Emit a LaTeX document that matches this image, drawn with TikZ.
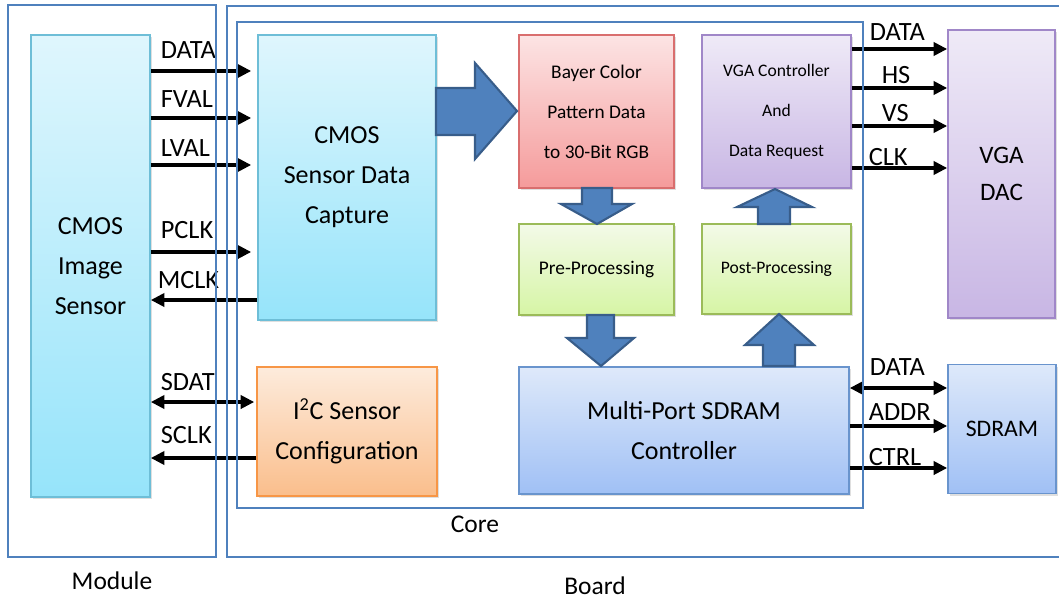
\documentclass[tikz,border=0pt]{standalone}
\usepackage{fontspec}
\setmainfont{Carlito}
\usepackage{tikz}
\usetikzlibrary{arrows.meta, shadows}

\definecolor{frameblue}{RGB}{79,129,189}
\definecolor{cyantop}{RGB}{223,246,253}
\definecolor{cyanbot}{RGB}{150,228,250}
\definecolor{cyanline}{RGB}{110,190,215}
\definecolor{orgtop}{RGB}{253,235,220}
\definecolor{orgbot}{RGB}{250,190,140}
\definecolor{orgline}{RGB}{247,150,70}
\definecolor{redtop}{RGB}{252,228,228}
\definecolor{redbot}{RGB}{245,155,155}
\definecolor{redline}{RGB}{217,110,110}
\definecolor{purtop}{RGB}{239,234,247}
\definecolor{purbot}{RGB}{200,182,228}
\definecolor{purline}{RGB}{160,135,200}
\definecolor{grntop}{RGB}{243,250,232}
\definecolor{grnbot}{RGB}{214,245,165}
\definecolor{grnline}{RGB}{155,187,89}
\definecolor{blutop}{RGB}{222,233,250}
\definecolor{blubot}{RGB}{160,192,245}
\definecolor{bluline}{RGB}{105,148,205}
\definecolor{arrowfill}{RGB}{79,129,189}
\definecolor{arrowline}{RGB}{56,93,138}

\begin{document}
\begin{tikzpicture}[x=0.02cm, y=-0.02cm,
  box/.style={draw, line width=0.9pt, align=center, inner sep=0pt,
    drop shadow={shadow xshift=1.2pt, shadow yshift=-1.2pt, opacity=0.25}},
  bigtxt/.style={font=\fontsize{14.8}{22.7}\selectfont},
  cyanbox/.style={box, bigtxt, draw=cyanline, top color=cyantop, bottom color=cyanbot},
  orgbox/.style={box, bigtxt, draw=orgline, top color=orgtop, bottom color=orgbot},
  redbox/.style={box, draw=redline, top color=redtop, bottom color=redbot},
  purbox/.style={box, draw=purline, top color=purtop, bottom color=purbot},
  grnbox/.style={box, draw=grnline, top color=grntop, bottom color=grnbot},
  blubox/.style={box, draw=bluline, top color=blutop, bottom color=blubot},
  frame/.style={draw=frameblue, line width=1.1pt},
  sig/.style={line width=2.3pt, -{Triangle[length=0.27cm, width=0.26cm]}},
  bisig/.style={line width=2.3pt, {Triangle[length=0.27cm, width=0.26cm]}-{Triangle[length=0.27cm, width=0.26cm]}},
  lab/.style={font=\fontsize{15}{17}\selectfont, anchor=base west, inner sep=0pt},
  blockarrow/.style={fill=arrowfill, draw=arrowline, line width=1.2pt, line join=miter}]
  \useasboundingbox (0,0) rectangle (1059,599);

  % Blocks
  \node[cyanbox, minimum width=2.38cm, minimum height=9.24cm] (sensor) at (90.5,266) {CMOS\\Image\\Sensor};
  \node[cyanbox, minimum width=3.56cm, minimum height=5.7cm] (capture) at (347,177.5) {CMOS\\Sensor Data\\Capture};
  \node[orgbox, minimum width=3.6cm, minimum height=2.58cm] (i2c) at (347,431.5) {I\textsuperscript{2}C Sensor\\Configuration};
  \node[redbox, font=\fontsize{11}{22.7}\selectfont, minimum width=3.1cm, minimum height=3.06cm] (bayer) at (596.5,111.5) {Bayer Color\\Pattern Data\\to 30-Bit RGB};
  \node[purbox, font=\fontsize{10}{22.7}\selectfont, minimum width=2.98cm, minimum height=3.06cm] (vgactl) at (776.5,111.5) {VGA Controller\\And\\Data Request};
  \node[grnbox, font=\fontsize{11}{13}\selectfont, minimum width=3.1cm, minimum height=1.82cm] (pre) at (596.5,269.5) {Pre-Processing};
  \node[grnbox, font=\fontsize{10}{12}\selectfont, minimum width=2.98cm, minimum height=1.8cm] (post) at (776.5,269) {Post-Processing};
  \node[blubox, bigtxt, minimum width=6.6cm, minimum height=2.54cm] (sdramctl) at (684,430.5) {Multi-Port SDRAM\\Controller};
  \node[purbox, font=\fontsize{14.3}{21.5}\selectfont, minimum width=2.14cm, minimum height=5.76cm] (vgadac) at (1001.5,174) {VGA\\DAC};
  \node[blubox, font=\fontsize{13.5}{16}\selectfont, minimum width=2.16cm, minimum height=2.58cm] (sdram) at (1002,429) {SDRAM};

  % Block arrows
  \draw[blockarrow] (436,88) -- (475,88) -- (475,63) -- (517,111) -- (475,159) -- (475,135) -- (436,135) -- cycle;
  \draw[blockarrow] (582,188) -- (612,188) -- (612,204) -- (632,204) -- (597,224) -- (561,204) -- (582,204) -- cycle;
  \draw[blockarrow] (587,315) -- (614,315) -- (614,338) -- (634,338) -- (601,366) -- (567,338) -- (587,338) -- cycle;
  \draw[blockarrow] (758,224) -- (758,207) -- (737,207) -- (775,189) -- (812,207) -- (790,207) -- (790,224) -- cycle;
  \draw[blockarrow] (763,366) -- (763,345) -- (745,345) -- (779,314) -- (814,345) -- (795,345) -- (795,366) -- cycle;

  % Sensor signals
  \draw[sig, shorten >=0.12cm] (sensor.east |- 0,71) -- node[lab, pos=0, xshift=0.16cm, yshift=0.26cm] {DATA} (capture.west |- 0,71);
  \draw[sig, shorten >=0.12cm] (sensor.east |- 0,118) -- node[lab, pos=0, xshift=0.16cm, yshift=0.22cm] {FVAL} (capture.west |- 0,118);
  \draw[sig, shorten >=0.12cm] (sensor.east |- 0,165) -- node[lab, pos=0, xshift=0.16cm, yshift=0.17cm] {LVAL} (capture.west |- 0,165);
  \draw[sig, shorten >=0.12cm] (sensor.east |- 0,252) -- node[lab, pos=0, xshift=0.16cm, yshift=0.28cm] {PCLK} (capture.west |- 0,252);
  \draw[sig] (capture.west |- 0,300) -- node[lab, pos=1, xshift=0.1cm, yshift=0.24cm] {MCLK} (sensor.east |- 0,300);
  \draw[bisig, shorten >=0.04cm] (sensor.east |- 0,402) -- node[lab, pos=0, xshift=0.16cm, yshift=0.24cm] {SDAT} (i2c.west |- 0,402);
  \draw[sig] (i2c.west |- 0,458) -- node[lab, pos=1, xshift=0.16cm, yshift=0.3cm] {SCLK} (sensor.east |- 0,458);

  % VGA signals
  \draw[sig] (vgactl.east |- 0,49) -- node[lab, pos=0, xshift=0.32cm, yshift=0.17cm] {DATA} (vgadac.west |- 0,49);
  \draw[sig] (vgactl.east |- 0,88) -- node[lab, pos=0, xshift=0.56cm, yshift=0.1cm] {HS} (vgadac.west |- 0,88);
  \draw[sig] (vgactl.east |- 0,126) -- node[lab, pos=0, xshift=0.56cm, yshift=0.1cm] {VS} (vgadac.west |- 0,126);
  \draw[sig] (vgactl.east |- 0,168) -- node[lab, pos=0, xshift=0.3cm, yshift=0.06cm] {CLK} (vgadac.west |- 0,168);

  % SDRAM signals
  \draw[bisig] (sdramctl.east |- 0,388) -- node[lab, pos=0, xshift=0.36cm, yshift=0.26cm] {DATA} (sdram.west |- 0,388);
  \draw[sig] (sdramctl.east |- 0,426) -- node[lab, pos=0, xshift=0.34cm, yshift=0.12cm] {ADDR} (sdram.west |- 0,426);
  \draw[sig] (sdramctl.east |- 0,468) -- node[lab, pos=0, xshift=0.34cm, yshift=0.06cm] {CTRL} (sdram.west |- 0,468);

  % Frames (on top of the signal lines)
  \draw[frame] (8,5) rectangle (216,557);
  \draw[frame] (1059,6) -- (227,6) -- (227,557) -- (1059,557);
  \draw[frame] (237,22) rectangle (863,508);
  \node[font=\fontsize{14.5}{17}\selectfont] (modlbl) at (112,581) {Module};
  \node[font=\fontsize{14.5}{17}\selectfont] (boardlbl) at (595,586) {Board};
  \node[font=\fontsize{14.5}{17}\selectfont] (corelbl) at (475,524) {Core};
\end{tikzpicture}
\end{document}
